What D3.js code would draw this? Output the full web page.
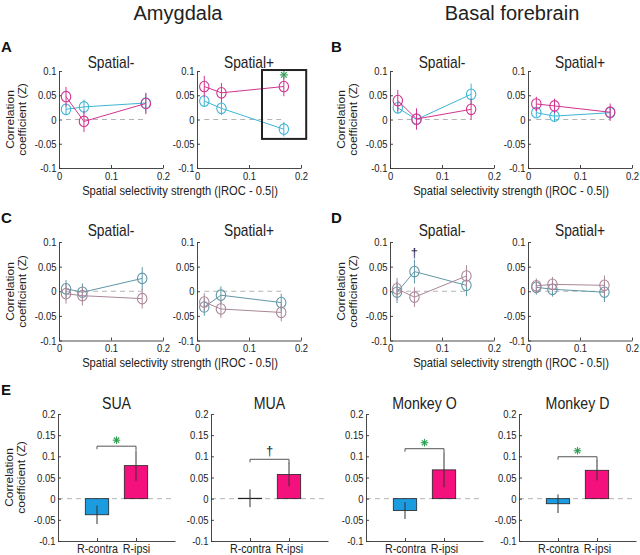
<!DOCTYPE html>
<html><head><meta charset="utf-8">
<script src="https://cdn.jsdelivr.net/npm/d3@7"></script>
<style>body{margin:0;background:#fff}svg{display:block}</style>
</head><body>
<script>
// ---------------- DATA ----------------
const xTicks = [0, 0.1, 0.2];
const yTicksLine = [-0.1, -0.05, 0, 0.05, 0.1];
const yTicksBar = [-0.1, -0.05, 0, 0.05, 0.1, 0.15, 0.2];
const panelTitles = ["Spatial-", "Spatial+"];

// A: Amygdala (contra = cyan, ipsi = magenta)
const aNegX = [0.0135, 0.048, 0.167];
const aNegContra = [0.021, 0.026, 0.034];
const aNegContraErr = [0.012, 0.015, 0.02];
const aNegIpsi = [0.047, -0.004, 0.033];
const aNegIpsiErr = [0.02, 0.022, 0.022];
const aPosX = [0.014, 0.047, 0.167];
const aPosContra = [0.038, 0.023, -0.02];
const aPosContraErr = [0.012, 0.014, 0.015];
const aPosIpsi = [0.068, 0.055, 0.068];
const aPosIpsiErr = [0.022, 0.02, 0.02];

// B: Basal forebrain
const bNegX = [0.015, 0.051, 0.156];
const bNegContra = [0.024, 0.0, 0.052];
const bNegContraErr = [0.012, 0.02, 0.022];
const bNegIpsi = [0.039, 0.001, 0.021];
const bNegIpsiErr = [0.022, 0.022, 0.022];
const bPosX = [0.016, 0.051, 0.158];
const bPosContra = [0.014, 0.007, 0.014];
const bPosContraErr = [0.01, 0.012, 0.012];
const bPosIpsi = [0.032, 0.028, 0.015];
const bPosIpsiErr = [0.015, 0.015, 0.018];

// C: Amygdala (second condition)
const cNegX = [0.0135, 0.045, 0.16];
const cNegContra = [0.005, -0.002, 0.026];
const cNegContraErr = [0.018, 0.018, 0.023];
const cNegIpsi = [-0.005, -0.009, -0.015];
const cNegIpsiErr = [0.02, 0.02, 0.02];
const cPosX = [0.014, 0.046, 0.162];
const cPosContra = [-0.032, -0.008, -0.023];
const cPosContraErr = [0.018, 0.018, 0.018];
const cPosIpsi = [-0.022, -0.036, -0.043];
const cPosIpsiErr = [0.018, 0.018, 0.018];

// D: Basal forebrain (second condition)
const dNegX = [0.0135, 0.047, 0.147];
const dNegContra = [-0.002, 0.04, 0.012];
const dNegContraErr = [0.022, 0.024, 0.022];
const dNegIpsi = [0.005, -0.012, 0.031];
const dNegIpsiErr = [0.022, 0.02, 0.022];
const dPosX = [0.016, 0.047, 0.147];
const dPosContra = [0.008, 0.004, -0.002];
const dPosContraErr = [0.015, 0.015, 0.02];
const dPosIpsi = [0.011, 0.014, 0.012];
const dPosIpsiErr = [0.015, 0.015, 0.02];

// E: bar charts
const eTitles = ["SUA", "MUA", "Monkey O", "Monkey D"];
const eCats = ["R-contra", "R-ipsi"];
const eContra = [-0.038, 0.001, -0.028, -0.012];
const eContraErr = [0.022, 0.021, 0.02, 0.022];
const eIpsi = [0.078, 0.057, 0.068, 0.067];
const eIpsiErr = [0.036, 0.028, 0.041, 0.024];
const eBracket = [0.124, 0.093, 0.118, 0.099];
const eMarks = ["*", "†", "*", "*"];

// ---------------- DRAWING ----------------
const W = 640, H = 555, SX = 0.86;
const FONT = "'Liberation Sans', Arial, Helvetica, sans-serif";
const svg = d3.select("body").append("svg").attr("width", W).attr("height", H)
  .style("font-family", FONT);

const COL = {
  cyan: "#3db5d6", mag: "#d3338f",
  teal: "#5f97a6", mauve: "#aa8799",
  barBlue: "#1b9be0", barPink: "#f4117e",
  green: "#2f9f55", axis: "#333", zero: "#b4b4b4"
};

function txt(parent, x, y, s, o = {}) {
  const g = parent.append("g").attr("transform",
    `translate(${x},${y}) scale(${o.sx ?? SX},1)` + (o.rot ? ` rotate(${o.rot})` : ""));
  const t = g.append("text").text(s)
    .attr("font-size", o.size || 11)
    .attr("text-anchor", o.anchor || "start")
    .attr("fill", o.fill || "#222");
  if (o.weight) t.attr("font-weight", o.weight);
  return t;
}

function styleAxis(sel, size) {
  sel.select(".domain").attr("stroke", COL.axis).attr("stroke-width", 0.9);
  sel.selectAll(".tick line").attr("stroke", COL.axis).attr("stroke-width", 0.9);
  sel.selectAll(".tick text").attr("fill", "#222").attr("font-size", size)
    .attr("font-family", FONT).attr("transform", `scale(${SX},1)`);
}

function asterisk(g, cx, cy, r, color) {
  for (let k = 0; k < 4; k++) {
    const a = k * Math.PI / 4;
    g.append("line")
      .attr("x1", cx - r * Math.cos(a)).attr("y1", cy - r * Math.sin(a))
      .attr("x2", cx + r * Math.cos(a)).attr("y2", cy + r * Math.sin(a))
      .attr("stroke", color).attr("stroke-width", 1.1);
  }
}

function linePanel(cfg) {
  const x = d3.scaleLinear().domain([0, 0.2]).range([cfg.left, cfg.left + 104]);
  const y = d3.scaleLinear().domain([-0.1, 0.1]).range([cfg.top + cfg.h, cfg.top]);
  const g = svg.append("g");
  g.append("line").attr("x1", x(cfg.xs[0])).attr("x2", x(cfg.xs[cfg.xs.length - 1]))
    .attr("y1", y(0)).attr("y2", y(0))
    .attr("stroke", COL.zero).attr("stroke-dasharray", "5,4").attr("stroke-width", 1);
  const ax = g.append("g").attr("transform", `translate(0,${y(-0.1)})`)
    .call(d3.axisBottom(x).tickValues(xTicks).tickSizeInner(-3).tickSizeOuter(0)
      .tickPadding(4).tickFormat(d => String(+d.toFixed(2))));
  styleAxis(ax, 11);
  const ay = g.append("g").attr("transform", `translate(${x(0)},0)`)
    .call(d3.axisLeft(y).tickValues(yTicksLine).tickSizeInner(-3).tickSizeOuter(0)
      .tickPadding(3).tickFormat(d => String(+d.toFixed(2))));
  styleAxis(ay, 11);
  const series = [
    { v: cfg.c, e: cfg.ce, col: cfg.colC },
    { v: cfg.i, e: cfg.ie, col: cfg.colI }
  ];
  const line = d3.line().x(d => x(d[0])).y(d => y(d[1]));
  series.forEach(s => {
    const pts = cfg.xs.map((xv, k) => [xv, s.v[k], s.e[k]]);
    const sg = g.append("g");
    sg.selectAll("line.err").data(pts).join("line").attr("class", "err")
      .attr("x1", d => x(d[0])).attr("x2", d => x(d[0]))
      .attr("y1", d => y(d[1] - d[2])).attr("y2", d => y(d[1] + d[2]))
      .attr("stroke", s.col).attr("stroke-width", 1);
    sg.append("path").attr("d", line(pts)).attr("fill", "none")
      .attr("stroke", s.col).attr("stroke-width", 1);
    sg.selectAll("ellipse").data(pts).join("ellipse")
      .attr("cx", d => x(d[0])).attr("cy", d => y(d[1]))
      .attr("rx", 4.7).attr("ry", 5.3)
      .attr("fill", "none").attr("stroke", s.col).attr("stroke-width", 1.1);
  });
  txt(g, (x(0) + x(0.2)) / 2, cfg.titleY, cfg.title, { size: 16, anchor: "middle" });
  return { x, y, g };
}

function yLabel(axisX, centerY) {
  txt(svg, axisX - 45, centerY, "Correlation", { size: 12, anchor: "middle", rot: -90 });
  txt(svg, axisX - 33, centerY, "coefficient (Z)", { size: 12, anchor: "middle", rot: -90 });
}

const colsL = [59, 197, 390, 528];
const row1 = { top: 71, h: 97, titleY: 68 };
const row2 = { top: 242, h: 98.5, titleY: 236 };

const pA1 = linePanel({ left: colsL[0], ...row1, title: panelTitles[0], xs: aNegX, c: aNegContra, ce: aNegContraErr, i: aNegIpsi, ie: aNegIpsiErr, colC: COL.cyan, colI: COL.mag });
const pA2 = linePanel({ left: colsL[1], ...row1, title: panelTitles[1], xs: aPosX, c: aPosContra, ce: aPosContraErr, i: aPosIpsi, ie: aPosIpsiErr, colC: COL.cyan, colI: COL.mag });
linePanel({ left: colsL[2], ...row1, title: panelTitles[0], xs: bNegX, c: bNegContra, ce: bNegContraErr, i: bNegIpsi, ie: bNegIpsiErr, colC: COL.cyan, colI: COL.mag });
linePanel({ left: colsL[3], ...row1, title: panelTitles[1], xs: bPosX, c: bPosContra, ce: bPosContraErr, i: bPosIpsi, ie: bPosIpsiErr, colC: COL.cyan, colI: COL.mag });
linePanel({ left: colsL[0], ...row2, title: panelTitles[0], xs: cNegX, c: cNegContra, ce: cNegContraErr, i: cNegIpsi, ie: cNegIpsiErr, colC: COL.teal, colI: COL.mauve });
linePanel({ left: colsL[1], ...row2, title: panelTitles[1], xs: cPosX, c: cPosContra, ce: cPosContraErr, i: cPosIpsi, ie: cPosIpsiErr, colC: COL.teal, colI: COL.mauve });
const pD1 = linePanel({ left: colsL[2], ...row2, title: panelTitles[0], xs: dNegX, c: dNegContra, ce: dNegContraErr, i: dNegIpsi, ie: dNegIpsiErr, colC: COL.teal, colI: COL.mauve });
linePanel({ left: colsL[3], ...row2, title: panelTitles[1], xs: dPosX, c: dPosContra, ce: dPosContraErr, i: dPosIpsi, ie: dPosIpsiErr, colC: COL.teal, colI: COL.mauve });

const boxA = { x0: 0.125, x1: 0.21, y0: -0.04, y1: 0.102 };
pA2.g.append("rect").attr("x", pA2.x(boxA.x0)).attr("y", pA2.y(boxA.y1))
  .attr("width", pA2.x(boxA.x1) - pA2.x(boxA.x0)).attr("height", pA2.y(boxA.y0) - pA2.y(boxA.y1))
  .attr("fill", "none").attr("stroke", "#222").attr("stroke-width", 2);
asterisk(pA2.g, pA2.x(aPosX[2]), pA2.y(0.092), 4, COL.green);
txt(pD1.g, pD1.x(dNegX[1]), pD1.y(0.07), "†", { size: 13, anchor: "middle", sx: 1 });

yLabel(colsL[0], 119.5);
yLabel(colsL[2], 119.5);
yLabel(colsL[0], 291.5);
yLabel(colsL[2], 291.5);
const xLab = "Spatial selectivity strength (|ROC - 0.5|)";
[[0, 195], [2, 195], [0, 367], [2, 367]].forEach(([c, yy]) =>
  txt(svg, (colsL[c] + colsL[c + 1] + 104) / 2, yy, xLab, { size: 13, anchor: "middle" }));

const eLeft = [58, 211, 366, 519];
eTitles.forEach((title, i) => {
  const x = d3.scaleLinear().domain([0, 3]).range([eLeft[i], eLeft[i] + 117]);
  const y = d3.scaleLinear().domain([-0.1, 0.2]).range([541, 414]);
  const g = svg.append("g");
  g.append("line").attr("x1", x(0)).attr("x2", x(3)).attr("y1", y(0)).attr("y2", y(0))
    .attr("stroke", COL.zero).attr("stroke-dasharray", "5,4");
  const bars = [
    { k: 1, v: eContra[i], e: eContraErr[i], col: COL.barBlue },
    { k: 2, v: eIpsi[i], e: eIpsiErr[i], col: COL.barPink }
  ];
  g.selectAll("rect").data(bars).join("rect")
    .attr("x", d => x(d.k - 0.3)).attr("width", d => x(d.k + 0.3) - x(d.k - 0.3))
    .attr("y", d => y(Math.max(0, d.v))).attr("height", d => Math.abs(y(d.v) - y(0)))
    .attr("fill", d => d.col).attr("stroke", "#222").attr("stroke-width", 0.8);
  g.selectAll("line.err").data(bars).join("line").attr("class", "err")
    .attr("x1", d => x(d.k)).attr("x2", d => x(d.k))
    .attr("y1", d => y(d.v - d.e)).attr("y2", d => y(d.v + d.e))
    .attr("stroke", "#333").attr("stroke-width", 1);
  const ax = g.append("g").attr("transform", `translate(0,${y(-0.1)})`)
    .call(d3.axisBottom(x).tickValues([1, 2]).tickSizeInner(-3).tickSizeOuter(0)
      .tickPadding(3).tickFormat(d => eCats[d - 1]));
  styleAxis(ax, 12.5);
  const ay = g.append("g").attr("transform", `translate(${x(0)},0)`)
    .call(d3.axisLeft(y).tickValues(yTicksBar).tickSizeInner(-3).tickSizeOuter(0)
      .tickPadding(3).tickFormat(d => String(+d.toFixed(2))));
  styleAxis(ay, 11);
  const by = y(eBracket[i]);
  g.append("path").attr("d", `M${x(1)},${by + 3}V${by}H${x(2)}V${by + 4}`)
    .attr("fill", "none").attr("stroke", "#555").attr("stroke-width", 1);
  if (eMarks[i] === "*") asterisk(g, x(1.5), by - 6, 3.8, COL.green);
  else txt(g, x(1.5), by - 4, eMarks[i], { size: 13, anchor: "middle", sx: 1 });
  txt(g, (x(0) + x(3)) / 2, 409, title, { size: 16.5, anchor: "middle" });
  if (i === 0) yLabel(x(0), 477.5);
});

txt(svg, 178, 20, "Amygdala", { size: 20, anchor: "middle", sx: 1 });
txt(svg, 512, 20, "Basal forebrain", { size: 20, anchor: "middle", sx: 1 });
txt(svg, 1, 52, "A", { size: 15, weight: "bold", sx: 1, fill: "#111" });
txt(svg, 331, 52, "B", { size: 15, weight: "bold", sx: 1, fill: "#111" });
txt(svg, 1, 223, "C", { size: 15, weight: "bold", sx: 1, fill: "#111" });
txt(svg, 331, 223, "D", { size: 15, weight: "bold", sx: 1, fill: "#111" });
txt(svg, 1, 395, "E", { size: 15, weight: "bold", sx: 1, fill: "#111" });
</script>
</body></html>
